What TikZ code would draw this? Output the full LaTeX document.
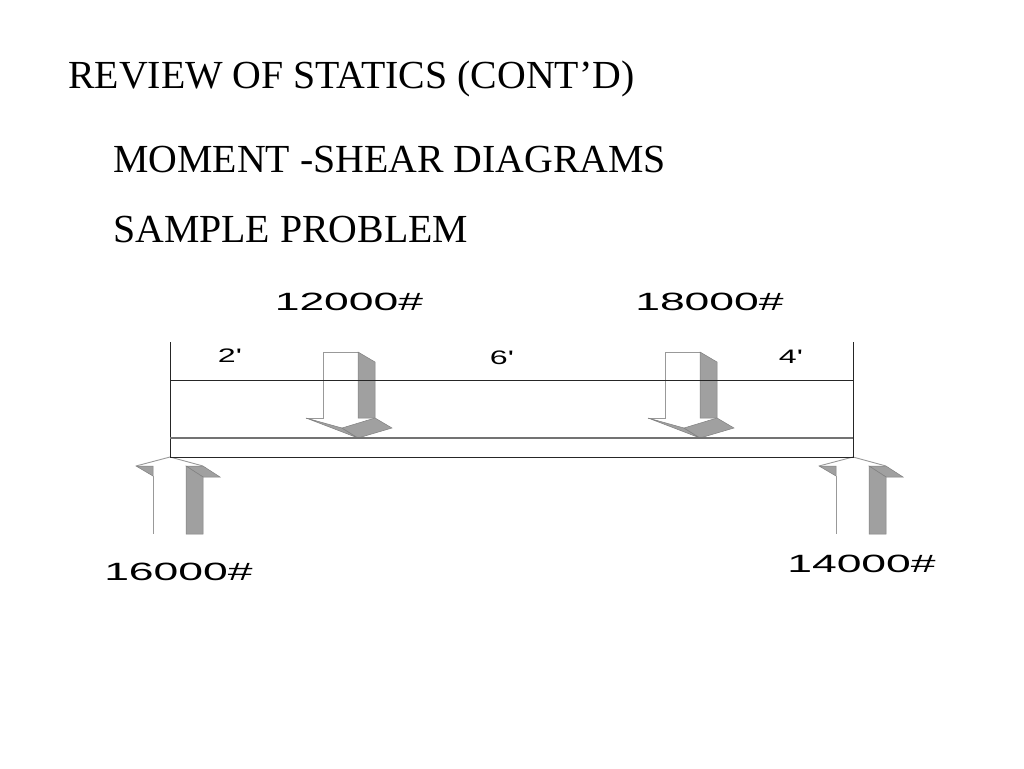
\documentclass[tikz,border=0pt]{standalone}
\usepackage{fontspec}
\setmainfont{Liberation Serif}
\newfontfamily\lblfont{Liberation Sans}
\definecolor{shade}{RGB}{160,160,160}
\tikzset{
  x=1pt,y=-1pt,
  titletext/.style={anchor=base west,inner sep=0pt,font=\fontsize{39.8}{44}\selectfont},
  loadtext/.style={anchor=center,inner sep=0pt,font=\lblfont\fontsize{25}{28}\selectfont},
  dimtext/.style={anchor=center,inner sep=0pt,font=\lblfont\fontsize{19.5}{22}\selectfont},
  greyface/.style={fill=shade,draw=black!50,line width=0.5pt},
  lightedge/.style={draw=black!40,line width=0.9pt},
  beamline/.style={draw=black!85,line width=0.9pt},
  beamgrey/.style={draw=black!55,line width=1.1pt}
}
\newcommand{\widelabel}[1]{\scalebox{1.78}[1]{#1}}
\newcommand{\downarrowshape}[1]{%
  \begin{scope}[xshift=#1]
    \fill[white] (323,352)--(358,352)--(358,418)--(375,418)--(358,438)--(306,418)--(323,418)--cycle;
    \draw[lightedge] (358,352)--(323,352)--(323,418)--(306,418);
    \draw[greyface] (358,352)--(375,362)--(375,418)--(358,418)--cycle;
    \draw[greyface] (306,418)--(342,428)--(358,438)--cycle;
    \draw[greyface] (342,428)--(375,418)--(392,428)--(358,438)--cycle;
  \end{scope}}
\newcommand{\uparrowshape}[1]{%
  \begin{scope}[xshift=#1]
    \draw[greyface] (136,466)--(153,466)--(153,476)--cycle;
    \draw[greyface] (186,466)--(203,466)--(220,477)--(203,477)--cycle;
    \draw[greyface] (186,466)--(203,477)--(203,534)--(186,534)--cycle;
    \draw[lightedge] (136,466)--(170,457)--(203,466);
    \draw[lightedge] (153,476)--(153,534);
  \end{scope}}
\begin{document}
\begin{tikzpicture}
\useasboundingbox (0,0) rectangle (1024,768);
\fill[white] (0,0) rectangle (1024,768);
\node[titletext] (title) at (68,88.5) {REVIEW OF STATICS (CONT’D)};
\node[titletext] (sub) at (113,172) {MOMENT -SHEAR DIAGRAMS};
\node[titletext] (prob) at (113,242) {SAMPLE PROBLEM};
\downarrowshape{0pt}
\downarrowshape{342pt}
\uparrowshape{0pt}
\uparrowshape{683pt}
\coordinate (tl) at (170,342);
\coordinate (tr) at (853,342);
\coordinate (bl) at (170,457);
\coordinate (br) at (853,457);
\draw[beamline] (tl)--(bl)--(br)--(tr);
\draw[beamline] (170,380)--(853,380);
\draw[beamgrey] (170,438)--(853,438);
\node[loadtext] (a) at (349,302) {\widelabel{12000\#}};
\node[loadtext] (b) at (709.5,302) {\widelabel{18000\#}};
\node[loadtext] (c) at (178.5,572) {\widelabel{16000\#}};
\node[loadtext] (d) at (861.5,564) {\widelabel{14000\#}};
\node[dimtext] (e) at (230,356) {\scalebox{1.65}[1]{2'}};
\node[dimtext] (f) at (502,358) {\scalebox{1.65}[1]{6'}};
\node[dimtext] (g) at (791,357) {\scalebox{1.65}[1]{4'}};
\end{tikzpicture}
\end{document}
